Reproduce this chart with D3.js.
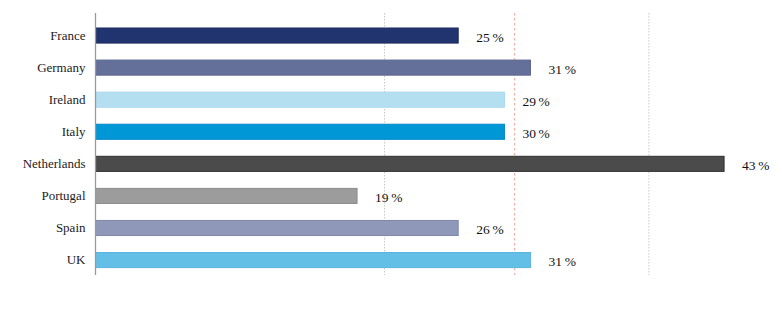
<!DOCTYPE html>
<html><head><meta charset="utf-8">
<script src="https://cdn.jsdelivr.net/npm/d3@7"></script>
<style>html,body{margin:0;padding:0;background:#fff;}
svg text{font-family:"Liberation Serif","DejaVu Serif","Times New Roman",serif !important;}</style>
</head><body>
<svg id="c" width="782" height="324"></svg>
<script>
const categories = ["France","Germany","Ireland","Italy","Netherlands","Portugal","Spain","UK"];
const values = [25.1, 30.1, 28.3, 28.3, 43.5, 18.1, 25.1, 30.1];
const valueLabels = ["25\u2009%","31\u2009%","29\u2009%","30\u2009%","43\u2009%","19\u2009%","26\u2009%","31\u2009%"];
const colors = ["#21346f","#65709a","#b3dff1","#0097d7","#4b4b4b","#9c9c9c","#8f98b9","#64bfe7"];
const strokes = ["#1a2a5e","#5a6590","#a8d8ee","#0088c6","#2e2e2e","#8c8c8c","#7f88ad","#57b5e0"];
const gridValues = [20, 38.3];
const averageValue = 29.0;

const svg = d3.select("#c");
const x = d3.scaleLinear().domain([0, 50]).range([95.5, 95.5 + 50 * 14.45]);
const y = d3.scaleBand().domain(categories).range([19.5, 276.1]).paddingInner(0.53).paddingOuter(0.265);

svg.selectAll("line.grid").data(gridValues).enter().append("line")
  .attr("x1", d => x(d)).attr("x2", d => x(d)).attr("y1", 13).attr("y2", 275)
  .attr("stroke", "#c8c8c8").attr("stroke-width", 1).attr("stroke-dasharray", "1.5,1.5");
svg.append("line")
  .attr("x1", x(averageValue)).attr("x2", x(averageValue)).attr("y1", 13).attr("y2", 275)
  .attr("stroke", "#efb1a6").attr("stroke-width", 1.2).attr("stroke-dasharray", "2.5,2.5");

svg.selectAll("rect.bar").data(categories).enter().append("rect")
  .attr("x", x(0)).attr("y", d => y(d))
  .attr("width", (d, i) => x(values[i]) - x(0))
  .attr("height", y.bandwidth())
  .attr("fill", (d, i) => colors[i])
  .attr("stroke", (d, i) => strokes[i]).attr("stroke-width", 1);

svg.append("line").attr("x1", 95.5).attr("x2", 95.5).attr("y1", 13).attr("y2", 275)
  .attr("stroke", "#9a9a9a").attr("stroke-width", 1.3);

const yAxis = d3.axisLeft(y).tickSize(0).tickPadding(10);
const ga = svg.append("g").attr("transform", "translate(95.5,0)").call(yAxis);
ga.select(".domain").remove();
ga.attr("font-family", null);
ga.selectAll("text").style("font-size", "13px").attr("fill", "#222");

svg.selectAll("text.val").data(categories).enter().append("text")
  .attr("x", (d, i) => x(values[i]) + 18)
  .attr("y", d => y(d) + y.bandwidth() / 2 + 1.5)
  .attr("dy", "0.35em")
  .style("font-size", "13.5px").attr("fill", "#111")
  .text((d, i) => valueLabels[i]);
</script>
</body></html>
